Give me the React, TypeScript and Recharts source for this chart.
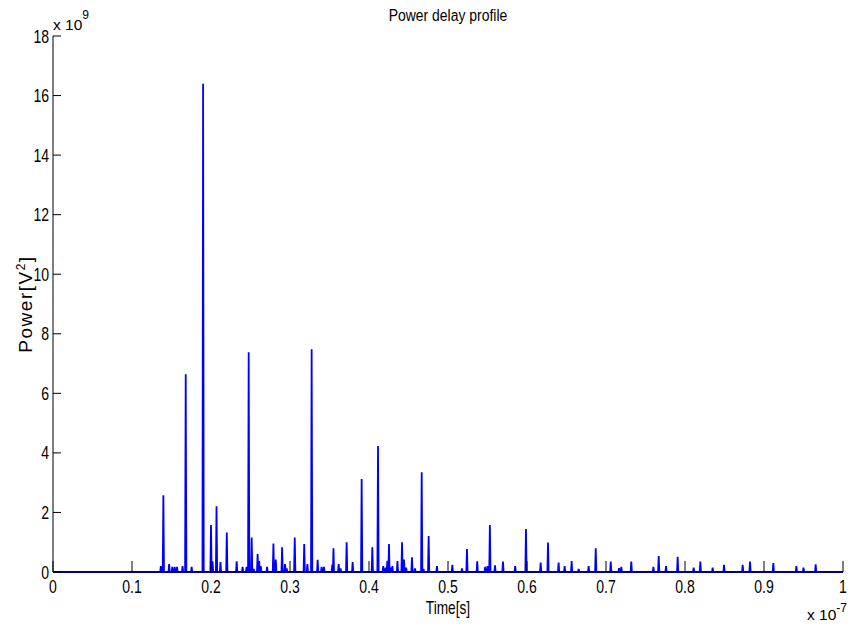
import { LineChart, Line, XAxis, YAxis } from 'recharts';

// spike positions in units of 1e-7 s, powers in units of 1e9 V^2
const spikeTimes = [
  0.1365, 0.1397, 0.147, 0.151, 0.154, 0.157, 0.164, 0.168, 0.1755, 0.19,
  0.2, 0.202, 0.207, 0.212, 0.22, 0.2325, 0.24, 0.245, 0.2477, 0.2515,
  0.254, 0.259, 0.261, 0.263, 0.271, 0.279, 0.282, 0.29, 0.2937, 0.2958,
  0.306, 0.318, 0.322, 0.3274, 0.335, 0.34, 0.343, 0.3535, 0.355, 0.3616,
  0.364, 0.3717, 0.3793, 0.3907, 0.4042, 0.4114, 0.418, 0.421, 0.4232, 0.4253,
  0.428, 0.4296, 0.436, 0.4418, 0.4443, 0.447, 0.4544, 0.4582, 0.4667, 0.469,
  0.4755, 0.486, 0.5055, 0.5177, 0.524, 0.537, 0.547, 0.55, 0.553, 0.5595,
  0.5696, 0.585, 0.5987, 0.6173, 0.6266, 0.64, 0.6477, 0.6565, 0.6654, 0.678,
  0.687, 0.706, 0.7165, 0.7194, 0.732, 0.76, 0.7667, 0.776, 0.7907, 0.811,
  0.8194, 0.835, 0.8494, 0.873, 0.8823, 0.9118, 0.941, 0.95, 0.9654,
];
const spikePowers = [
  0.2, 2.58, 0.27, 0.17, 0.17, 0.17, 0.2, 6.64, 0.17, 16.4,
  1.58, 0.36, 2.21, 0.33, 1.33, 0.36, 0.17, 0.17, 7.38, 1.16,
  0.1, 0.6, 0.37, 0.2, 0.17, 0.96, 0.42, 0.83, 0.27, 0.12,
  1.16, 0.94, 0.27, 7.48, 0.41, 0.17, 0.17, 0.25, 0.8, 0.27,
  0.12, 1.0, 0.33, 3.12, 0.83, 4.23, 0.2, 0.15, 0.38, 0.94,
  0.15, 0.2, 0.37, 1.0, 0.42, 0.15, 0.49, 0.12, 3.35, 0.1,
  1.21, 0.2, 0.24, 0.12, 0.77, 0.36, 0.17, 0.2, 1.58, 0.22,
  0.35, 0.2, 1.44, 0.32, 0.99, 0.32, 0.2, 0.37, 0.1, 0.2,
  0.8, 0.35, 0.13, 0.17, 0.35, 0.17, 0.54, 0.2, 0.51, 0.15,
  0.35, 0.15, 0.24, 0.24, 0.35, 0.3, 0.2, 0.15, 0.26,
];
const xTicks = [0, 0.1, 0.2, 0.3, 0.4, 0.5, 0.6, 0.7, 0.8, 0.9, 1];
const yTicks = [0, 2, 4, 6, 8, 10, 12, 14, 16, 18];

const HALF_WIDTH = 0.0008;
const FONT = "'Liberation Sans', Arial, sans-serif";

function buildSeries() {
  const pts = [{ t: 0, p: 0 }, { t: 1, p: 0 }];
  spikeTimes.forEach((t, i) => {
    pts.push({ t: t - HALF_WIDTH, p: 0 }, { t, p: spikePowers[i] }, { t: t + HALF_WIDTH, p: 0 });
  });
  return pts.sort((a, b) => a.t - b.t);
}

function NarrowText({ x, y, anchor = 'middle', size = 18, sx = 0.78, children }: any) {
  return (
    <text
      transform={`translate(${x},${y}) scale(${sx},1)`}
      textAnchor={anchor}
      fontSize={size}
      fontFamily={FONT}
      fill="#000"
    >
      {children}
    </text>
  );
}

const BottomTick = ({ x, y, payload }: any) => (
  <g>
    <line x1={x} x2={x} y1={y} y2={y - 11} stroke="#000" />
    <NarrowText x={x} y={y + 21}>{String(payload.value)}</NarrowText>
  </g>
);

const TopTick = ({ x, y }: any) => <line x1={x} x2={x} y1={y} y2={y + 11} stroke="#000" />;

const LeftTick = ({ x, y, payload }: any) => (
  <g>
    <line x1={x} x2={x + 8} y1={y} y2={y} stroke="#000" />
    <NarrowText x={x - 4} y={y + 6.5} anchor="end">{String(payload.value)}</NarrowText>
  </g>
);

const RightTick = ({ x, y }: any) => <line x1={x} x2={x - 8} y1={y} y2={y} stroke="#000" />;

export default function App() {
  const data = buildSeries();
  return (
    <div style={{ position: 'absolute', left: 0, top: 0, width: 851, height: 631, background: '#fff' }}>
      <LineChart width={851} height={631} data={data} margin={{ top: 36, right: 8, bottom: 0, left: 0 }}>
        <XAxis
          xAxisId="bottom"
          dataKey="t"
          type="number"
          domain={[0, 1]}
          ticks={xTicks}
          interval={0}
          height={59}
          tickSize={0}
          tickMargin={0}
          tickLine={false}
          axisLine={{ stroke: '#000' }}
          tick={BottomTick}
        />
        <XAxis
          xAxisId="top"
          orientation="top"
          dataKey="t"
          type="number"
          domain={[0, 1]}
          ticks={xTicks}
          interval={0}
          height={0}
          tickSize={0}
          tickMargin={0}
          tickLine={false}
          axisLine={{ stroke: '#000' }}
          tick={TopTick}
        />
        <YAxis
          yAxisId="left"
          type="number"
          domain={[0, 18]}
          ticks={yTicks}
          interval={0}
          width={53}
          tickSize={0}
          tickMargin={0}
          tickLine={false}
          axisLine={{ stroke: '#000' }}
          tick={LeftTick}
        />
        <YAxis
          yAxisId="right"
          orientation="right"
          type="number"
          domain={[0, 18]}
          ticks={yTicks}
          interval={0}
          width={0}
          tickSize={0}
          tickMargin={0}
          tickLine={false}
          axisLine={{ stroke: '#000' }}
          tick={RightTick}
        />
        <Line
          xAxisId="bottom"
          yAxisId="left"
          type="linear"
          dataKey="p"
          stroke="#0000ff"
          strokeWidth={1.8}
          dot={false}
          isAnimationActive={false}
        />
      </LineChart>
      <svg
        width={851}
        height={631}
        style={{ position: 'absolute', left: 0, top: 0, pointerEvents: 'none' }}
      >
        <NarrowText x={448} y={21} size={17} sx={0.82}>Power delay profile</NarrowText>
        <NarrowText x={448} y={614} size={18} sx={0.76}>Time[s]</NarrowText>
        <text
          transform="translate(32,304) rotate(-90)"
          textAnchor="middle"
          fontSize={19}
          fontFamily={FONT}
          letterSpacing={1.5}
          fill="#000"
        >
          Power[V<tspan dy={-7} fontSize={12}>2</tspan><tspan dy={7}>]</tspan>
        </text>
        <text x={53} y={30} fontSize={15.5} fontFamily={FONT} fill="#000">
          x 10<tspan dy={-11} fontSize={12}>9</tspan>
        </text>
        <text x={807} y={620} fontSize={15.5} fontFamily={FONT} fill="#000">
          x 10<tspan dy={-8} fontSize={12}>-7</tspan>
        </text>
      </svg>
    </div>
  );
}
